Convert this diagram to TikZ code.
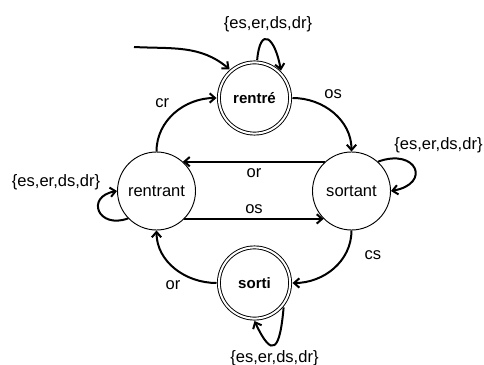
\documentclass[tikz,border=0pt]{standalone}
\usepackage{fontspec}
\setmainfont{Liberation Sans}
\usetikzlibrary{arrows.meta}

\tikzset{
  etat/.style={circle, draw, line width=0.7pt, minimum size=58.5pt, inner sep=0pt,
    font=\fontsize{12.4}{14}\selectfont},
  etatfinal/.style={circle, draw, line width=0.7pt, double, double distance=1.5pt,
    minimum size=53.4pt, inner sep=0pt, outer sep=1.8pt,
    font=\fontsize{11.3}{13}\selectfont\bfseries},
  fleche/.style={line width=1.5pt, -{Straight Barb[length=4pt,width=7pt]}},
  etiq/.style={font=\fontsize{12.4}{14}\selectfont}
}

\begin{document}
\begin{tikzpicture}[x=0.75pt, y=0.75pt]
    \useasboundingbox (0,0) rectangle (484,364);
    % les quatre etats
    \node[etatfinal] (rentre) at (254.5,266) {rentré};
    \node[etat] (rentrant) at (156.5,173) {rentrant};
    \node[etat] (sortant) at (351.5,173) {sortant};
    \node[etatfinal] (sorti) at (254.5,81) {sorti};
    \coordinate (debut) at (134,317);
    % fleche initiale
    \draw[fleche] (debut) to[out=-3, in=140] (rentre.131);
    % transitions
    \draw[fleche] (rentrant) to[out=90, in=180] node[etiq, pos=0.5, above left] {cr} (rentre);
    \draw[fleche] (rentre) to[out=0, in=90] node[etiq, pos=0.3, above right] {os} (sortant);
    \draw[fleche] (sortant.132) -- node[etiq, below=1pt] {or} (rentrant.48);
    \draw[fleche] (rentrant.-45) -- node[etiq, above] {os} (sortant.-135);
    \draw[fleche] (sortant) to[out=-90, in=0] node[etiq, pos=0.3, right=11pt] {cs} (sorti);
    \draw[fleche] (sorti) to[out=180, in=-90] node[etiq, pos=0.35, below left] {or} (rentrant);
    % boucles
    \draw[fleche] (rentre.86) to[out=85, in=100, looseness=3.4]
        node[etiq, above=2pt] {\{es,er,ds,dr\}} (rentre.46);
    \draw[fleche] (sortant.48) to[out=20, in=10, looseness=3.3]
        node[etiq, pos=0.1, above right] {\{es,er,ds,dr\}} (sortant.0);
    \draw[fleche] (rentrant.224) to[out=200, in=190, looseness=2.8]
        node[etiq, pos=0.85, above left] {\{es,er,ds,dr\}} (rentrant.180);
    \draw[fleche] (sorti.-40) to[out=-95, in=-65, looseness=3.4]
        node[etiq, below] {\{es,er,ds,dr\}} (sorti.-90);
\end{tikzpicture}
\end{document}
